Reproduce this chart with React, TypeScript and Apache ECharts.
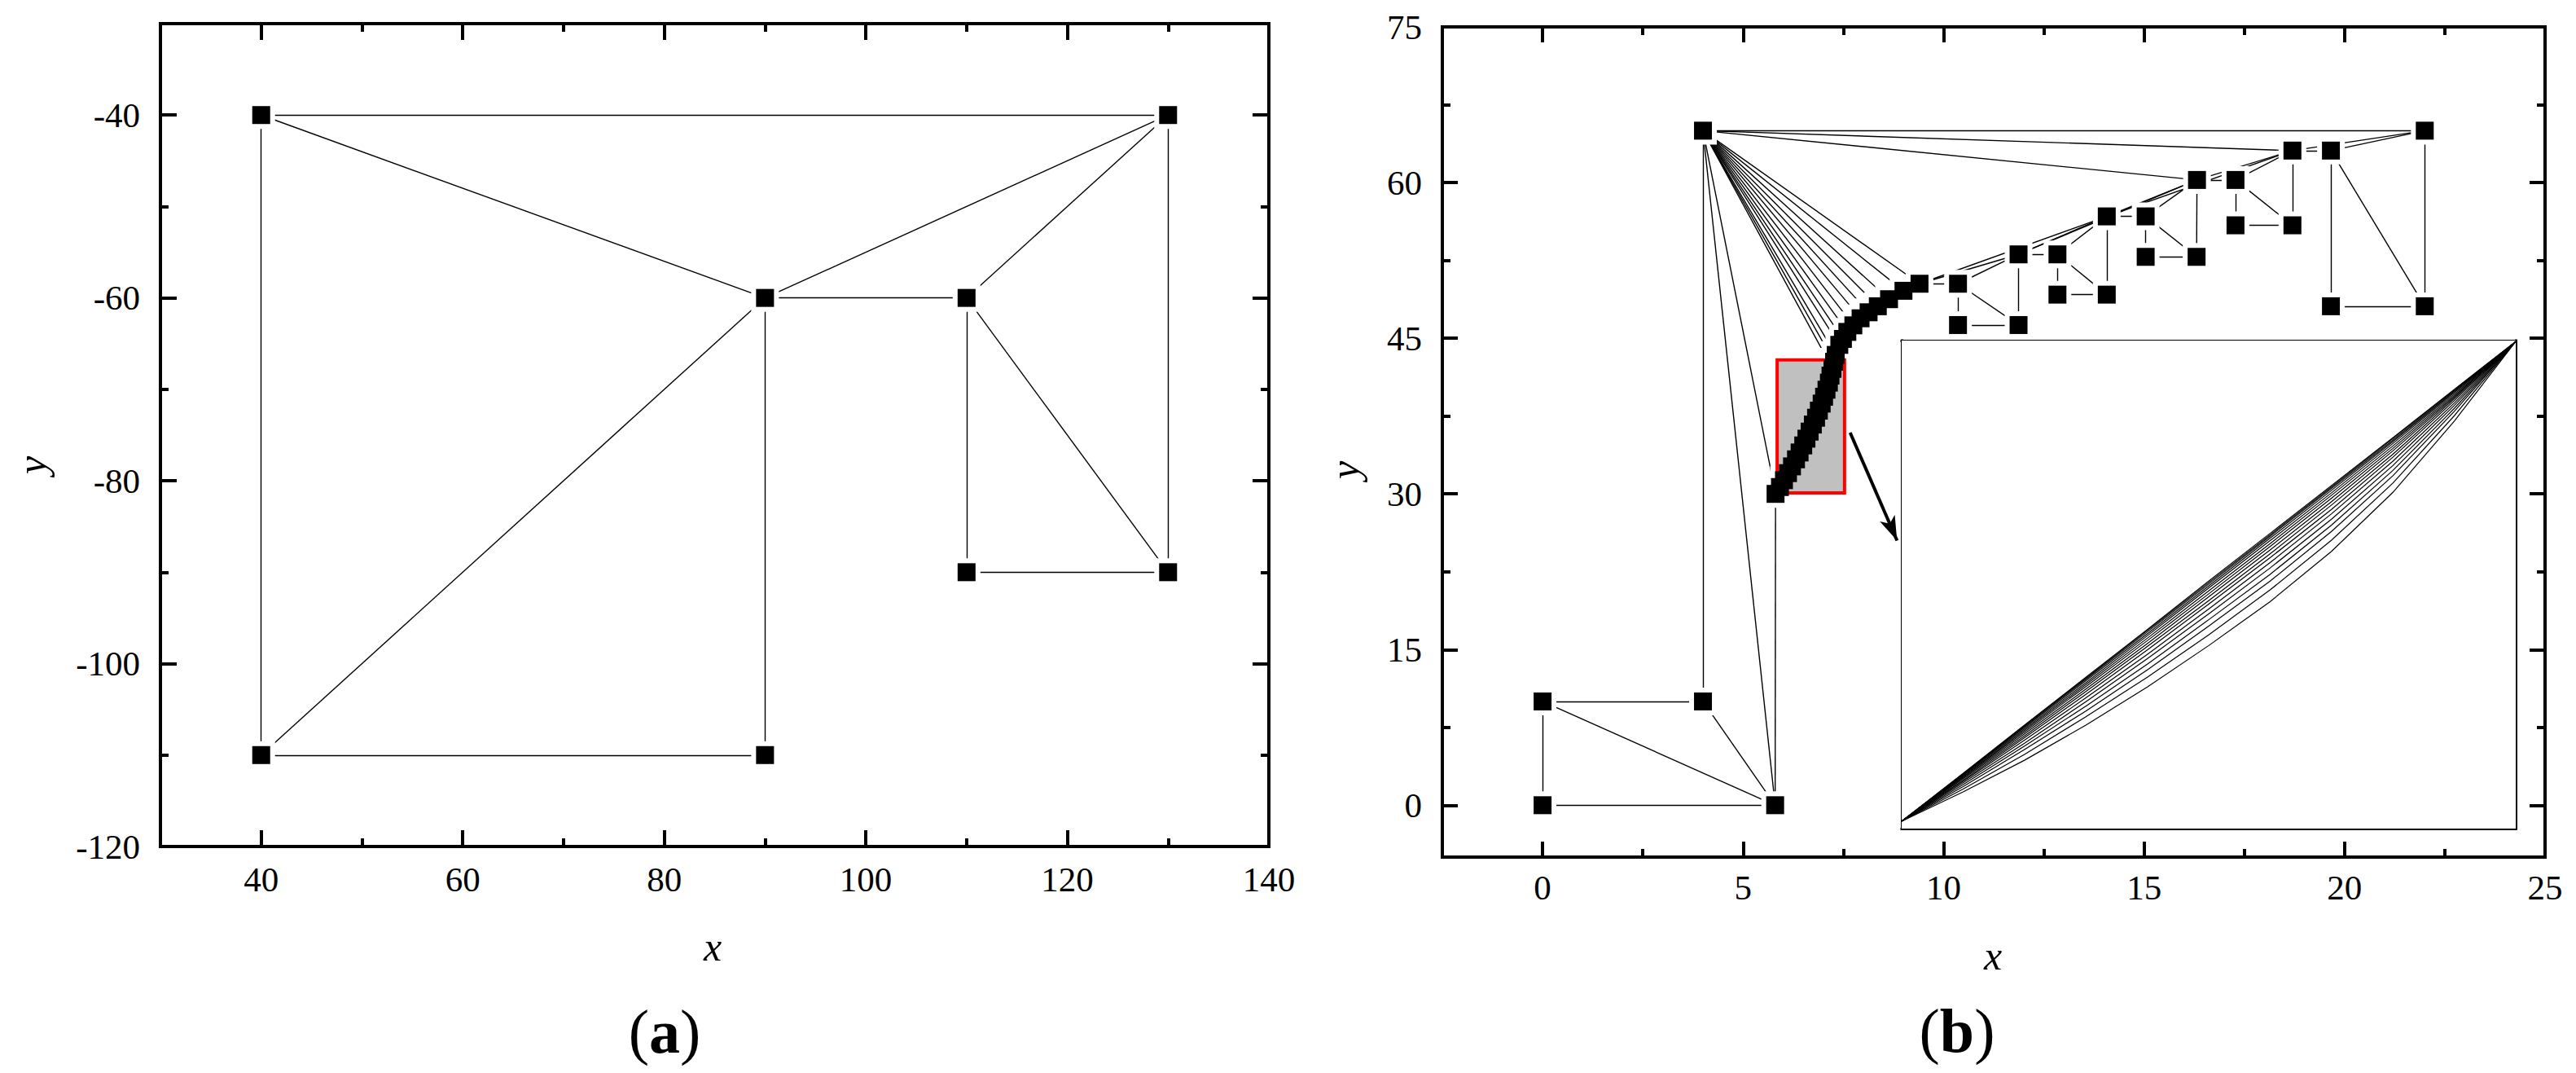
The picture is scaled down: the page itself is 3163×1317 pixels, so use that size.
import React, { useEffect, useRef } from 'react';
import * as echarts from 'echarts';

const W = 3163;
const H = 1317;
const FONT = 'Liberation Serif';

// ---------------- Panel (a) ----------------
const A_NODES: [number, number][] = [
  [40, -40], [130, -40], [90, -60], [110, -60],
  [40, -110], [90, -110], [110, -90], [130, -90],
];
const A_EDGES: [number, number][] = [
  [0, 1], [0, 2], [0, 4], [2, 1], [2, 3], [2, 4], [2, 5],
  [4, 5], [3, 1], [3, 6], [3, 7], [1, 7], [6, 7],
];
const A_X_MAJOR = [40, 60, 80, 100, 120, 140];
const A_X_MINOR = [50, 70, 90, 110, 130];
const A_Y_MAJOR = [-120, -100, -80, -60, -40];
const A_Y_MINOR = [-110, -90, -70, -50];

// ---------------- Panel (b) ----------------
const B_NODES: [number, number][] = [
  [0, 0], [0, 10], [4, 10], [5.8, 0], [4, 65], [22, 65],
  [10.36, 50.25], [10.36, 46.27], [11.87, 46.27], [11.87, 53.08],
  [12.84, 53.08], [12.84, 49.2], [14.07, 49.2], [14.07, 56.74],
  [15.04, 56.74], [15.04, 52.84], [16.31, 52.84], [16.32, 60.25],
  [17.28, 60.25], [17.28, 55.88], [18.7, 55.88], [18.7, 63.08],
  [19.66, 63.08], [19.66, 48.08], [22, 48.08],
];
const CHAIN_X = [5.81, 5.92, 6.02, 6.12, 6.22, 6.32, 6.41, 6.5, 6.58, 6.66, 6.74, 6.82, 6.89, 6.96, 7.02, 7.08,
  7.14, 7.18, 7.23, 7.27, 7.31, 7.4, 7.49, 7.6, 7.75, 7.93, 8.13, 8.36, 8.64, 9.0, 9.4];
const CHAIN_Y = [30.0, 30.66, 31.32, 32.0, 32.65, 33.33, 33.99, 34.67, 35.32, 36.0, 36.68, 37.34, 38.02, 38.7, 39.36,
  40.04, 40.72, 41.4, 42.05, 42.73, 43.39, 44.36, 44.93, 45.61, 46.24, 46.92, 47.5, 48.08, 48.76, 49.57, 50.25];
// node refs: numbers index B_NODES, 'cK' index the chain
const B_EDGES: [number | string, number | string][] = [
  [0, 3], [0, 1], [1, 2], [1, 3], [2, 3], [2, 4], [4, 3], [4, 'c0'], ['c0', 3],
  [4, 5], [4, 21], [4, 17],
  ['c30', 6], [6, 7], [6, 8], [7, 8], [6, 9], ['c30', 9], ['c30', 13],
  [9, 10], [9, 8], [10, 11], [10, 12], [11, 12], [9, 13], [10, 13], [9, 17],
  [13, 14], [13, 12], [14, 15], [14, 16], [15, 16], [13, 17], [14, 17], [13, 21],
  [17, 18], [17, 16], [18, 19], [18, 20], [19, 20], [17, 21], [18, 21],
  [21, 22], [21, 20], [21, 5], [22, 5], [22, 23], [22, 24], [23, 24], [5, 24],
];
const FAN_SOURCE = 4;
const FAN_TARGETS = [18, 19, 20, 21, 22, 23, 24, 25, 26, 27, 28, 29, 30];
const B_X_MAJOR = [0, 5, 10, 15, 20, 25];
const B_X_MINOR = [2.5, 7.5, 12.5, 17.5, 22.5];
const B_Y_MAJOR = [0, 15, 30, 45, 60, 75];
const B_Y_MINOR = [7.5, 22.5, 37.5, 52.5, 67.5];
const ZOOM_BOX = [5.85, 30.1, 7.53, 42.9]; // x1, y1, x2, y2
const ARROW_FROM: [number, number] = [7.67, 35.9];
const ARROW_TO: [number, number] = [8.84, 25.5];

// ---------------- Inset (normalised 0..1) ----------------
const INSET_U = [0, 0.1, 0.2, 0.3, 0.4, 0.5, 0.6, 0.7, 0.8, 0.9, 1];
const INSET_CURVES: number[][] = [
  [0.015, 0.113, 0.212, 0.310, 0.408, 0.507, 0.605, 0.703, 0.801, 0.900, 0.998],
  [0.015, 0.112, 0.211, 0.308, 0.406, 0.504, 0.602, 0.700, 0.799, 0.899, 0.998],
  [0.015, 0.111, 0.209, 0.306, 0.403, 0.501, 0.599, 0.697, 0.796, 0.897, 0.998],
  [0.015, 0.110, 0.207, 0.303, 0.399, 0.497, 0.595, 0.693, 0.793, 0.895, 0.998],
  [0.015, 0.109, 0.204, 0.299, 0.395, 0.493, 0.590, 0.688, 0.789, 0.893, 0.998],
  [0.015, 0.107, 0.201, 0.295, 0.390, 0.487, 0.584, 0.683, 0.784, 0.890, 0.998],
  [0.015, 0.106, 0.198, 0.291, 0.385, 0.481, 0.578, 0.677, 0.779, 0.887, 0.998],
  [0.015, 0.104, 0.194, 0.286, 0.379, 0.475, 0.571, 0.670, 0.774, 0.884, 0.998],
  [0.015, 0.102, 0.190, 0.281, 0.373, 0.467, 0.563, 0.663, 0.767, 0.881, 0.998],
  [0.015, 0.099, 0.186, 0.275, 0.366, 0.460, 0.555, 0.654, 0.761, 0.877, 0.998],
  [0.015, 0.097, 0.181, 0.268, 0.357, 0.450, 0.545, 0.645, 0.753, 0.872, 0.998],
  [0.015, 0.094, 0.175, 0.260, 0.348, 0.440, 0.534, 0.634, 0.744, 0.867, 0.998],
  [0.015, 0.090, 0.169, 0.251, 0.337, 0.428, 0.521, 0.622, 0.734, 0.861, 0.998],
  [0.015, 0.086, 0.162, 0.241, 0.325, 0.415, 0.507, 0.609, 0.723, 0.855, 0.998],
  [0.015, 0.081, 0.152, 0.229, 0.310, 0.397, 0.489, 0.591, 0.708, 0.846, 0.998],
  [0.015, 0.075, 0.140, 0.212, 0.290, 0.375, 0.465, 0.568, 0.689, 0.835, 0.998],
];
const INSET_X_TICKS = [0.117, 0.485, 0.854];
const INSET_Y_TICKS = [0.384, 0.773];

// ---------------- helpers ----------------
function ptB(r: number | string): [number, number] {
  if (typeof r === 'string') {
    const k = parseInt(r.slice(1), 10);
    return [CHAIN_X[k], CHAIN_Y[k]];
  }
  return B_NODES[r];
}

interface AxOpt {
  grid: number; pos: string; min: number; max: number; ticks: number[];
  len: number; tickW: number; lineW: number; labels?: number[]; margin?: number;
}
function valueAxis(o: AxOpt) {
  return {
    type: 'value',
    gridIndex: o.grid,
    position: o.pos,
    min: o.min,
    max: o.max,
    axisLine: { show: o.lineW > 0, onZero: false, lineStyle: { color: '#000', width: o.lineW, cap: 'square' } },
    axisTick: { show: true, inside: true, length: o.len, customValues: o.ticks, lineStyle: { color: '#000', width: o.tickW } },
    axisLabel: o.labels
      ? { show: true, customValues: o.labels, color: '#000', fontFamily: FONT, fontSize: 43, margin: o.margin }
      : { show: false },
    splitLine: { show: false },
  };
}

function title(text: string, x: number, y: number, rotate = false) {
  return {
    type: 'text', x, y, rotation: rotate ? Math.PI / 2 : 0, z: 50,
    style: {
      text, fill: '#000', fontFamily: FONT, fontSize: 50, fontStyle: 'italic',
      textAlign: 'center', textVerticalAlign: 'middle',
    },
  };
}
function panelLabel(letter: string, x: number, y: number) {
  return {
    type: 'text', x, y, z: 50,
    style: {
      text: `{p|(}{b|${letter}}{p|)}`,
      fill: '#000',
      textAlign: 'center',
      textVerticalAlign: 'middle',
      rich: {
        p: { fontSize: 76, fontFamily: FONT, fill: '#000' },
        b: { fontSize: 76, fontFamily: FONT, fontWeight: 'bold', fill: '#000' },
      },
    },
  };
}

function buildOption() {
  const chainPts = CHAIN_X.map((x, i) => [x, CHAIN_Y[i]]);
  const bAllPts = [...B_NODES, ...chainPts];
  const bEdges = [
    ...B_EDGES.map(([p, q]) => ({ coords: [ptB(p), ptB(q)] })),
    ...FAN_TARGETS.map((k) => ({ coords: [B_NODES[FAN_SOURCE], [CHAIN_X[k], CHAIN_Y[k]]] })),
  ];
  const aEdges = A_EDGES.map(([p, q]) => ({ coords: [A_NODES[p], A_NODES[q]] }));

  const lineStyle = { color: '#000', width: 1.4, opacity: 1 };

  return {
    animation: false,
    backgroundColor: '#fff',
    textStyle: { fontFamily: FONT },
    grid: [
      { left: 197, top: 29, width: 1361, height: 1010, containLabel: false },
      { left: 1771, top: 33, width: 1354, height: 1019, containLabel: false },
      { left: 2335, top: 418, width: 754, height: 599, containLabel: false, show: true, backgroundColor: '#fff', borderWidth: 0, z: 10 },
    ],
    xAxis: [
      valueAxis({ grid: 0, pos: 'bottom', min: 30, max: 140, ticks: A_X_MAJOR, len: 20, tickW: 4, lineW: 4, labels: A_X_MAJOR, margin: 19 }),
      valueAxis({ grid: 0, pos: 'bottom', min: 30, max: 140, ticks: A_X_MINOR, len: 10, tickW: 4, lineW: 0 }),
      valueAxis({ grid: 0, pos: 'top', min: 30, max: 140, ticks: A_X_MAJOR, len: 20, tickW: 4, lineW: 4 }),
      valueAxis({ grid: 0, pos: 'top', min: 30, max: 140, ticks: A_X_MINOR, len: 10, tickW: 4, lineW: 0 }),
      valueAxis({ grid: 1, pos: 'bottom', min: -2.5, max: 25, ticks: B_X_MAJOR, len: 19, tickW: 4, lineW: 4, labels: B_X_MAJOR, margin: 16 }),
      valueAxis({ grid: 1, pos: 'bottom', min: -2.5, max: 25, ticks: B_X_MINOR, len: 10, tickW: 4, lineW: 0 }),
      valueAxis({ grid: 1, pos: 'top', min: -2.5, max: 25, ticks: B_X_MAJOR, len: 19, tickW: 4, lineW: 4 }),
      valueAxis({ grid: 1, pos: 'top', min: -2.5, max: 25, ticks: B_X_MINOR, len: 10, tickW: 4, lineW: 0 }),
      valueAxis({ grid: 2, pos: 'bottom', min: 0, max: 1, ticks: INSET_X_TICKS, len: 10, tickW: 3, lineW: 3 }),
      valueAxis({ grid: 2, pos: 'top', min: 0, max: 1, ticks: INSET_X_TICKS, len: 10, tickW: 3, lineW: 3 }),
    ],
    yAxis: [
      valueAxis({ grid: 0, pos: 'left', min: -120, max: -30, ticks: A_Y_MAJOR, len: 20, tickW: 4, lineW: 4, labels: A_Y_MAJOR, margin: 25 }),
      valueAxis({ grid: 0, pos: 'left', min: -120, max: -30, ticks: A_Y_MINOR, len: 10, tickW: 4, lineW: 0 }),
      valueAxis({ grid: 0, pos: 'right', min: -120, max: -30, ticks: A_Y_MAJOR, len: 20, tickW: 4, lineW: 4 }),
      valueAxis({ grid: 0, pos: 'right', min: -120, max: -30, ticks: A_Y_MINOR, len: 10, tickW: 4, lineW: 0 }),
      valueAxis({ grid: 1, pos: 'left', min: -5, max: 75, ticks: B_Y_MAJOR, len: 19, tickW: 4, lineW: 4, labels: B_Y_MAJOR, margin: 25 }),
      valueAxis({ grid: 1, pos: 'left', min: -5, max: 75, ticks: B_Y_MINOR, len: 10, tickW: 4, lineW: 0 }),
      valueAxis({ grid: 1, pos: 'right', min: -5, max: 75, ticks: B_Y_MAJOR, len: 19, tickW: 4, lineW: 4 }),
      valueAxis({ grid: 1, pos: 'right', min: -5, max: 75, ticks: B_Y_MINOR, len: 10, tickW: 4, lineW: 0 }),
      valueAxis({ grid: 2, pos: 'left', min: 0, max: 1, ticks: INSET_Y_TICKS, len: 10, tickW: 3, lineW: 3 }),
      valueAxis({ grid: 2, pos: 'right', min: 0, max: 1, ticks: INSET_Y_TICKS, len: 10, tickW: 3, lineW: 3 }),
    ],
    series: [
      // panel a
      { type: 'lines', coordinateSystem: 'cartesian2d', xAxisIndex: 0, yAxisIndex: 0, z: 2, silent: true, lineStyle, data: aEdges },
      { type: 'scatter', xAxisIndex: 0, yAxisIndex: 0, z: 3, silent: true, symbol: 'rect', symbolSize: 34, itemStyle: { color: '#fff', opacity: 1 }, data: A_NODES },
      { type: 'scatter', xAxisIndex: 0, yAxisIndex: 0, z: 5, silent: true, symbol: 'rect', symbolSize: 22, itemStyle: { color: '#000', opacity: 1 }, data: A_NODES },
      // panel b
      { type: 'lines', coordinateSystem: 'cartesian2d', xAxisIndex: 4, yAxisIndex: 4, z: 2, silent: true, lineStyle, data: bEdges },
      { type: 'scatter', xAxisIndex: 4, yAxisIndex: 4, z: 3, silent: true, symbol: 'rect', symbolSize: 34, itemStyle: { color: '#fff', opacity: 1 }, data: bAllPts },
      {
        type: 'custom', xAxisIndex: 4, yAxisIndex: 4, z: 4, silent: true, clip: false,
        data: [ZOOM_BOX],
        encode: { x: [0, 2], y: [1, 3] },
        renderItem: (_p: any, api: any) => {
          const tl = api.coord([api.value(0), api.value(3)]);
          const br = api.coord([api.value(2), api.value(1)]);
          return {
            type: 'rect',
            shape: { x: tl[0], y: tl[1], width: br[0] - tl[0], height: br[1] - tl[1] },
            style: { fill: '#c0c0c0', stroke: '#ff0000', lineWidth: 4 },
          };
        },
      },
      { type: 'scatter', xAxisIndex: 4, yAxisIndex: 4, z: 5, silent: true, symbol: 'rect', symbolSize: 22, itemStyle: { color: '#000', opacity: 1 }, data: bAllPts },
      {
        type: 'lines', coordinateSystem: 'cartesian2d', xAxisIndex: 4, yAxisIndex: 4, z: 6, silent: true,
        symbol: ['none', 'arrow'], symbolSize: [1, [15, 30]],
        lineStyle: { color: '#000', width: 4, opacity: 1 },
        itemStyle: { color: '#000' },
        data: [{ coords: [ARROW_FROM, ARROW_TO] }],
      },
      // inset
      {
        type: 'lines', coordinateSystem: 'cartesian2d', xAxisIndex: 8, yAxisIndex: 8, z: 12, silent: true, polyline: true,
        lineStyle: { color: '#000', width: 1.2, opacity: 1 },
        data: INSET_CURVES.map((vs) => ({ coords: INSET_U.map((u, i) => [u, vs[i]]) })),
      },
    ],
    graphic: [
      title('x', 875, 1162),
      title('y', 39, 571, true),
      title('x', 2447, 1173),
      title('y', 1651, 577, true),
      panelLabel('a', 816, 1266),
      panelLabel('b', 2403, 1265),
    ],
  };
}

export default function App() {
  const ref = useRef<HTMLDivElement>(null);
  useEffect(() => {
    document.body.style.margin = '0';
    document.body.style.overflow = 'hidden';
    if (!ref.current) return;
    const chart = echarts.init(ref.current, undefined, { renderer: 'svg' });
    chart.setOption(buildOption() as any);
    return () => chart.dispose();
  }, []);
  return <div ref={ref} style={{ width: W, height: H, background: '#fff' }} />;
}
